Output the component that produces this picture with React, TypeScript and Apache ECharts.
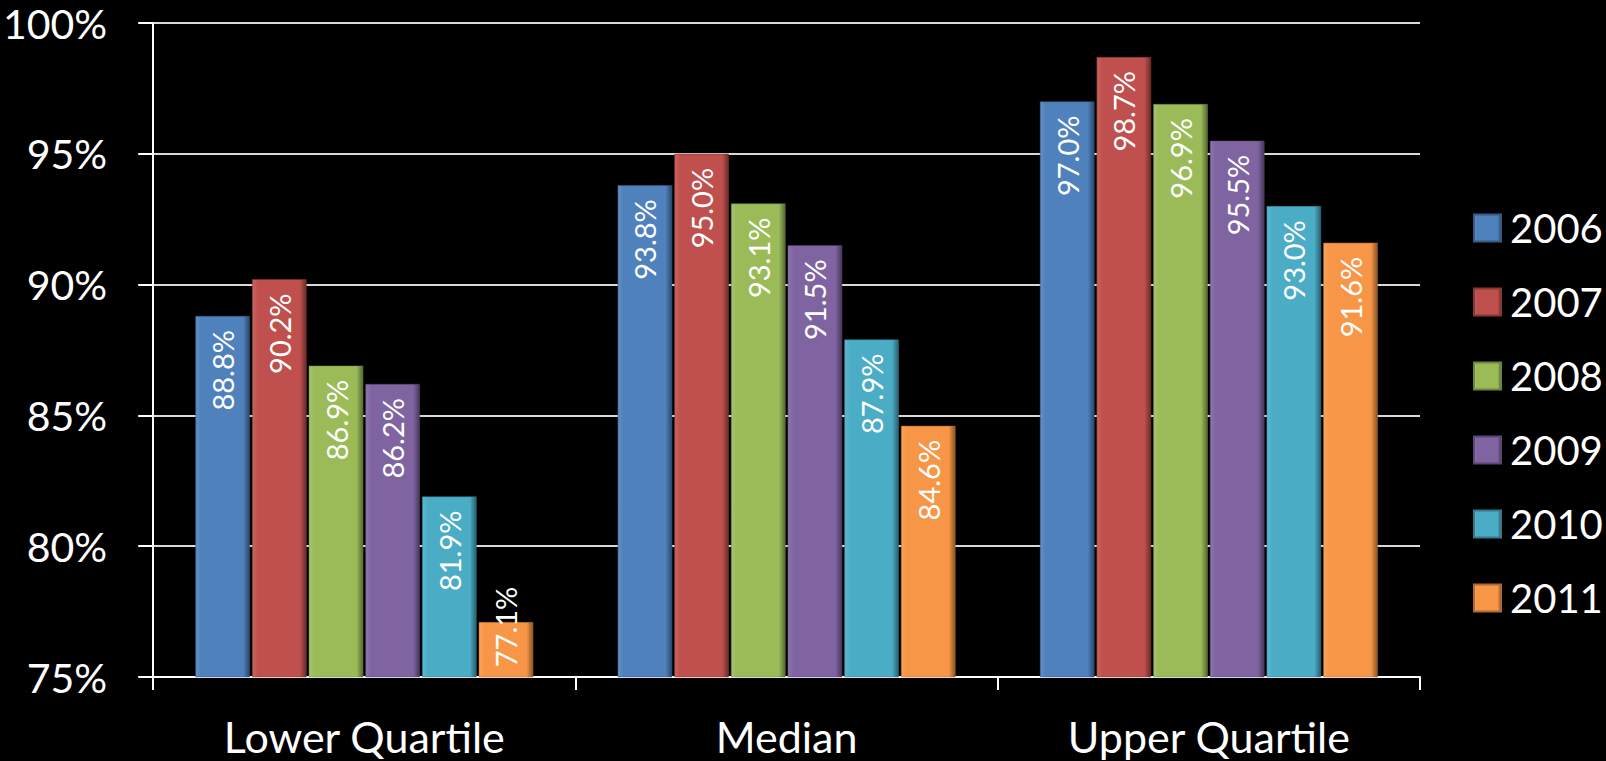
import React, { useEffect, useRef } from "react";
import * as echarts from "echarts";

const categories = ["Lower Quartile", "Median", "Upper Quartile"];
const seriesNames = ["2006", "2007", "2008", "2009", "2010", "2011"];
const values2006 = [88.8, 93.8, 97.0];
const values2007 = [90.2, 95.0, 98.7];
const values2008 = [86.9, 93.1, 96.9];
const values2009 = [86.2, 91.5, 95.5];
const values2010 = [81.9, 87.9, 93.0];
const values2011 = [77.1, 84.6, 91.6];
const allValues = [values2006, values2007, values2008, values2009, values2010, values2011];
const colors = ["#4F81BD", "#C0504D", "#9BBB59", "#8064A2", "#4BACC6", "#F79646"];
const yMin = 75;
const yMax = 100;
const yInterval = 5;

const FONT = "Lato, 'Open Sans', sans-serif";

function shade(hex: string, f: number): string {
  const n = parseInt(hex.slice(1), 16);
  let r = (n >> 16) & 255, g = (n >> 8) & 255, b = n & 255;
  const t = f < 0 ? 0 : 255;
  const p = Math.abs(f);
  r = Math.round((t - r) * p + r);
  g = Math.round((t - g) * p + g);
  b = Math.round((t - b) * p + b);
  return `rgb(${r},${g},${b})`;
}

function barFill(c: string) {
  return new echarts.graphic.LinearGradient(0, 0, 1, 0, [
    { offset: 0, color: shade(c, 0.12) },
    { offset: 0.1, color: c },
    { offset: 0.88, color: c },
    { offset: 1, color: shade(c, -0.45) },
  ]);
}

export default function App() {
  const ref = useRef<HTMLDivElement>(null);
  useEffect(() => {
    if (!ref.current) return;
    const chart = echarts.init(ref.current, undefined, { renderer: "svg" });
    const series = seriesNames.map((name, i) => ({
      name,
      type: "bar",
      barGap: "4%",
      barCategoryGap: "20%",
      itemStyle: { color: barFill(colors[i]), borderColor: shade(colors[i], -0.3), borderWidth: 0.5 },
      label: {
        show: true,
        position: "insideTop",
        rotate: 90,
        align: "right",
        verticalAlign: "middle",
        distance: 14,
        color: "#ffffff",
        fontFamily: FONT,
        fontSize: 29,
        formatter: (p: any) => `${Number(p.value).toFixed(1)}%`,
      },
      data: allValues[i].map((v) =>
        v - yMin < 4
          ? { value: v, label: { position: "insideBottom", align: "left", distance: 10 } }
          : v
      ),
    }));
    chart.setOption({
      animation: false,
      backgroundColor: "#000000",
      color: colors,
      grid: { left: 153, right: 186, top: 23, bottom: 84, containLabel: false },
      legend: {
        orient: "vertical",
        left: 1468,
        top: 203,
        itemWidth: 27,
        itemHeight: 27,
        itemGap: 34,
        icon: "rect",
        textStyle: { color: "#ffffff", fontSize: 40, fontFamily: FONT, lineHeight: 40, padding: [0, 0, 0, 4] },
        data: seriesNames,
      },
      xAxis: {
        type: "category",
        data: categories,
        axisLine: { lineStyle: { color: "#ffffff", width: 2 } },
        axisTick: { show: true, length: 13, lineStyle: { color: "#ffffff", width: 2 } },
        axisLabel: { color: "#ffffff", fontSize: 43, lineHeight: 43, fontFamily: FONT, margin: 38 },
      },
      yAxis: {
        type: "value",
        min: yMin,
        max: yMax,
        interval: yInterval,
        axisLine: { show: true, lineStyle: { color: "#ffffff", width: 2 } },
        axisTick: { show: true, length: 15, lineStyle: { color: "#ffffff", width: 2 } },
        axisLabel: { color: "#ffffff", fontSize: 41, fontFamily: FONT, margin: 46, formatter: "{value}%" },
        splitLine: { show: true, lineStyle: { color: "#d9d9d9", width: 2 } },
      },
      series,
    });
    return () => chart.dispose();
  }, []);
  return (
    <div
      ref={ref}
      style={{ position: "absolute", left: 0, top: 0, width: 1606, height: 761, background: "#000" }}
    />
  );
}
